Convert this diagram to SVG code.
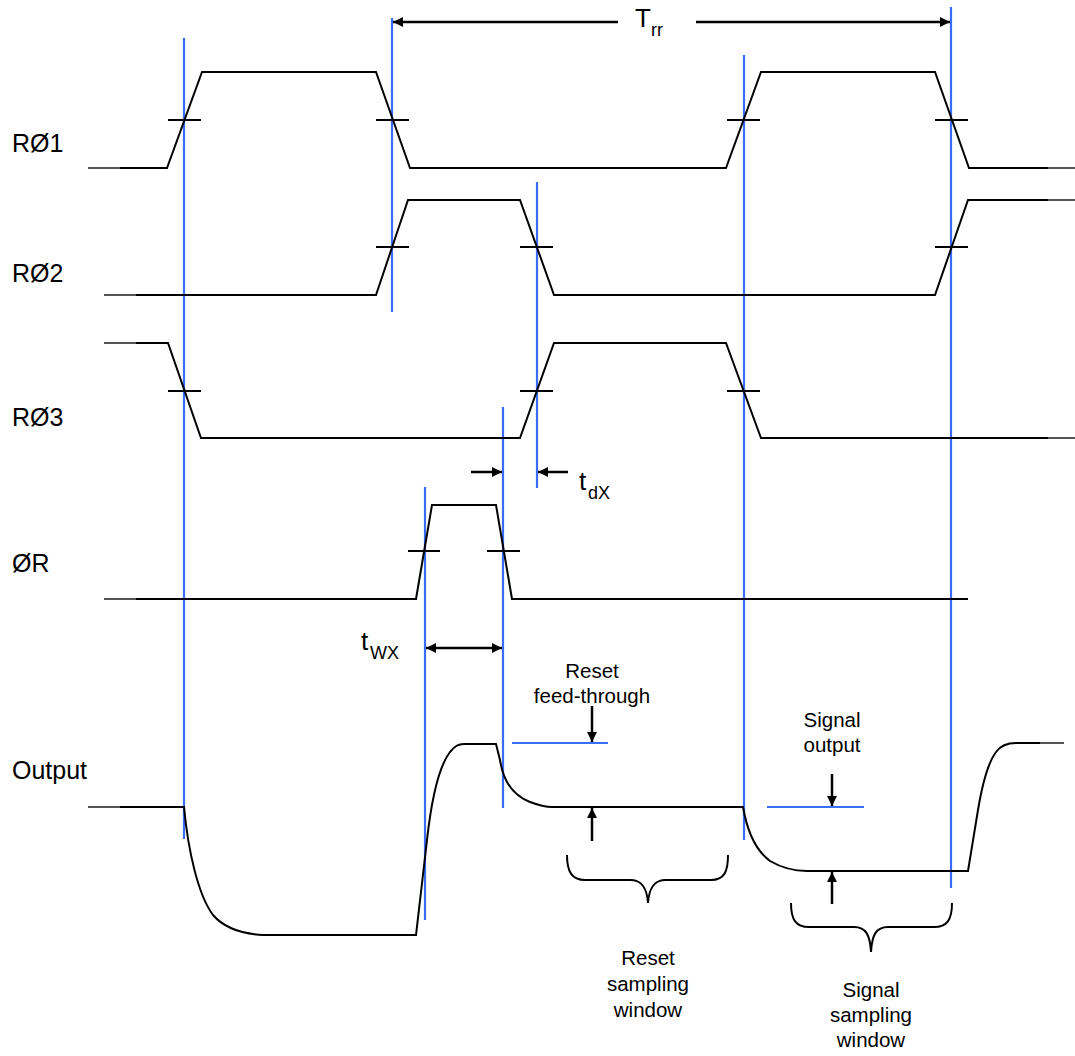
<svg xmlns="http://www.w3.org/2000/svg" width="1075" height="1056" viewBox="0 0 1075 1056">
<style>
.sig{fill:none;stroke:#000;stroke-width:2;stroke-linejoin:miter}
.fade{fill:none;stroke:#555;stroke-width:2}
.tick{stroke:#000;stroke-width:2}
.blue{stroke:#3a6cf6;stroke-width:2.2}
.arr{stroke:#000;stroke-width:2.5;fill:none}
.lbl{font-family:"Liberation Sans",Arial,sans-serif;font-size:25px;fill:#000}
.note{font-family:"Liberation Sans",Arial,sans-serif;font-size:20.5px;fill:#000;text-anchor:middle}
.big{font-family:"Liberation Sans",Arial,sans-serif;font-size:26px;fill:#000}
.sub{font-family:"Liberation Sans",Arial,sans-serif;font-size:18px;fill:#000}
</style>
<defs>
<marker id="ah" viewBox="0 0 10 10" refX="10" refY="5" markerWidth="10" markerHeight="10" markerUnits="userSpaceOnUse" orient="auto-start-reverse">
<path d="M0,0 L10,5 L0,10 Z" fill="#000"/>
</marker>
</defs>

<g id="labels">
<text class="lbl" x="12" y="152">RØ1</text>
<text class="lbl" x="12" y="282">RØ2</text>
<text class="lbl" x="12" y="426">RØ3</text>
<text class="lbl" x="12" y="572">ØR</text>
<text class="lbl" x="12" y="779">Output</text>
</g>

<g id="timing-lines">
<line class="blue" x1="184" y1="38" x2="184" y2="839"/>
<line class="blue" x1="392" y1="18" x2="392" y2="312"/>
<line class="blue" x1="537" y1="182" x2="537" y2="488"/>
<line class="blue" x1="503" y1="407" x2="503" y2="808"/>
<line class="blue" x1="425" y1="487" x2="425" y2="920"/>
<line class="blue" x1="744" y1="55" x2="744" y2="840"/>
<line class="blue" x1="951" y1="7" x2="951" y2="888"/>
</g>

<g id="R1">
<line class="fade" x1="88" y1="168" x2="120" y2="168"/>
<path class="sig" d="M120,168 H167 L202,72 H376 L410,168 H726 L761,72 H935 L969,168 H1048"/>
<line class="fade" x1="1048" y1="168" x2="1075" y2="168"/>
<line class="tick" x1="168" y1="120" x2="201" y2="120"/>
<line class="tick" x1="376" y1="120" x2="409" y2="120"/>
<line class="tick" x1="727" y1="120" x2="760" y2="120"/>
<line class="tick" x1="935" y1="120" x2="968" y2="120"/>
</g>

<g id="R2">
<line class="fade" x1="104" y1="295" x2="136" y2="295"/>
<path class="sig" d="M136,295 H376 L408,200 H520 L554,295 H935 L968,200 H1048"/>
<line class="fade" x1="1048" y1="200" x2="1075" y2="200"/>
<line class="tick" x1="376" y1="247" x2="409" y2="247"/>
<line class="tick" x1="520" y1="247" x2="553" y2="247"/>
<line class="tick" x1="935" y1="247" x2="968" y2="247"/>
</g>

<g id="R3">
<line class="fade" x1="104" y1="343" x2="136" y2="343"/>
<path class="sig" d="M136,343 H168 L201,438 H520 L554,343 H726 L761,438 H1048"/>
<line class="fade" x1="1048" y1="438" x2="1075" y2="438"/>
<line class="tick" x1="168" y1="391" x2="201" y2="391"/>
<line class="tick" x1="520" y1="391" x2="553" y2="391"/>
<line class="tick" x1="727" y1="391" x2="760" y2="391"/>
</g>

<g id="PhiR">
<line class="fade" x1="104" y1="599" x2="136" y2="599"/>
<path class="sig" d="M136,599 H416 L432,505 H496 L512,599 H968"/>
<line class="tick" x1="408" y1="551" x2="440" y2="551"/>
<line class="tick" x1="487" y1="551" x2="520" y2="551"/>
</g>

<g id="Output">
<line class="fade" x1="88" y1="807" x2="120" y2="807"/>
<path class="sig" d="M120,807 H184 C188,850 198,895 213,915 C225,929 245,934 263,935 H416 L427,840 C432,795 440,765 450,752 C455,746 458,744 464,744 H496 L500,760 C503,780 512,795 530,802 C538,805 545,807 552,807 H743 C747,830 755,850 770,861 C782,868 795,871 807,871 H968 L978,810 C983,780 990,760 996,752 C1001,745 1008,743 1016,743 H1040"/>
<line class="fade" x1="1040" y1="743" x2="1064" y2="743"/>
<line class="blue" x1="512" y1="743" x2="608" y2="743"/>
<line class="blue" x1="767" y1="807" x2="864" y2="807"/>
</g>

<g id="connectors">
<line class="arr" x1="618" y1="22" x2="393" y2="22" marker-end="url(#ah)"/>
<line class="arr" x1="696" y1="22" x2="950" y2="22" marker-end="url(#ah)"/>
<line class="arr" x1="471" y1="472" x2="502" y2="472" marker-end="url(#ah)"/>
<line class="arr" x1="568" y1="472" x2="538" y2="472" marker-end="url(#ah)"/>
<line class="arr" x1="426" y1="648" x2="502" y2="648" marker-start="url(#ah)" marker-end="url(#ah)"/>
<line class="arr" x1="592" y1="706" x2="592" y2="742" marker-end="url(#ah)"/>
<line class="arr" x1="592" y1="841" x2="592" y2="808" marker-end="url(#ah)"/>
<line class="arr" x1="832" y1="774" x2="832" y2="806" marker-end="url(#ah)"/>
<line class="arr" x1="832" y1="904" x2="832" y2="872" marker-end="url(#ah)"/>
<path class="sig" d="M567,855 C567,872 572,880 585,880 H630 C642,880 647,888 648,903 C649,888 654,880 666,880 H711 C724,880 728,872 728,855"/>
<path class="sig" d="M791,903 C791,920 796,927 809,927 H854 C866,927 870,935 871,952 C872,935 876,927 888,927 H934 C947,927 952,920 952,903"/>
</g>

<g id="annotations">
<text class="big" x="635" y="27">T</text><text class="sub" x="651" y="36">rr</text>
<text class="big" x="579" y="490">t</text><text class="sub" x="588" y="499">dX</text>
<text class="big" x="361" y="650">t</text><text class="sub" x="370" y="659">WX</text>
<text class="note" x="592" y="678">Reset</text>
<text class="note" x="592" y="703">feed-through</text>
<text class="note" x="832" y="727">Signal</text>
<text class="note" x="832" y="752">output</text>
<text class="note" x="648" y="965">Reset</text>
<text class="note" x="648" y="991">sampling</text>
<text class="note" x="648" y="1017">window</text>
<text class="note" x="871" y="997">Signal</text>
<text class="note" x="871" y="1022">sampling</text>
<text class="note" x="871" y="1047">window</text>
</g>
</svg>
